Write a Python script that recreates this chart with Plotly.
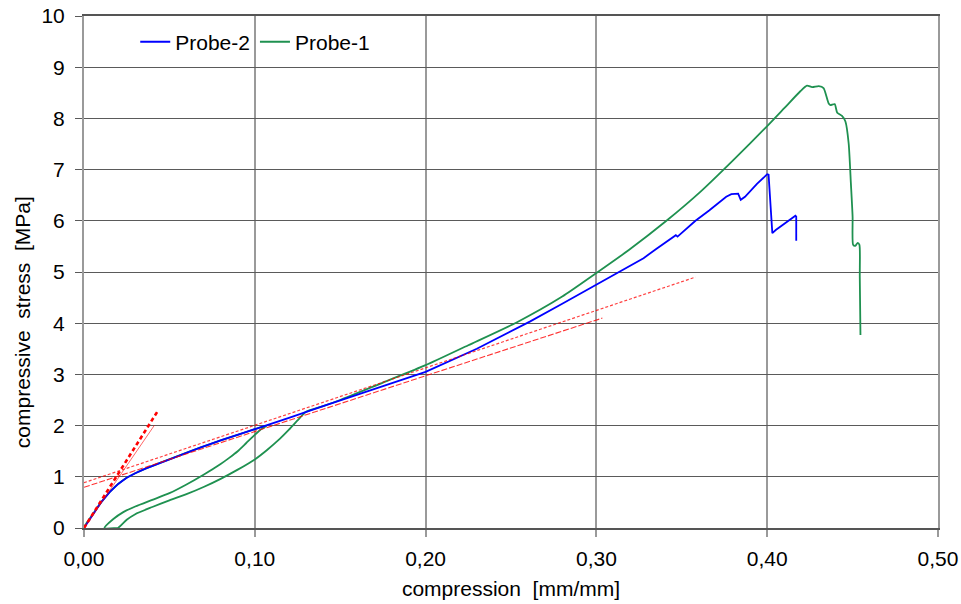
import plotly.graph_objects as go

# ---------------- data ----------------
probe2_x = [0, 0.005, 0.01, 0.015, 0.02, 0.025, 0.03, 0.036, 0.046, 0.056, 0.068, 0.08, 0.09, 0.10, 0.107,
            0.12, 0.14, 0.16, 0.18, 0.20, 0.23, 0.261, 0.28, 0.30, 0.315, 0.3276, 0.335, 0.343, 0.3465,
            0.3475, 0.35, 0.358, 0.366, 0.376, 0.379, 0.383, 0.3845, 0.387, 0.394, 0.400, 0.4008,
            0.403, 0.405, 0.411, 0.4165, 0.417, 0.417]
probe2_y = [0, 0.26, 0.50, 0.70, 0.86, 0.98, 1.07, 1.16, 1.29, 1.42, 1.57, 1.71, 1.82, 1.93, 2.00,
            2.15, 2.38, 2.60, 2.82, 3.05, 3.50, 4.03, 4.38, 4.76, 5.04, 5.27, 5.45, 5.65, 5.72,
            5.69, 5.76, 6.00, 6.20, 6.47, 6.52, 6.53, 6.41, 6.47, 6.72, 6.91, 6.90,
            5.76, 5.82, 5.97, 6.10, 6.08, 5.61]

probe1_x = [0.0198, 0,
            0.005, 0.01, 0.015, 0.02, 0.025, 0.03, 0.036, 0.046, 0.056, 0.068, 0.08, 0.09, 0.10, 0.107,
            0.103, 0.10, 0.095, 0.09, 0.085, 0.08, 0.07, 0.06, 0.05, 0.04, 0.03, 0.023, 0.017, 0.012,
            0.0198, 0.025, 0.03, 0.04, 0.05, 0.06, 0.07, 0.08, 0.09, 0.10, 0.107, 0.1146, 0.12, 0.125, 0.13,
            0.14, 0.15, 0.175, 0.20, 0.225, 0.253, 0.28, 0.30, 0.319, 0.341, 0.361, 0.38, 0.40, 0.41,
            0.4194, 0.4233, 0.4263, 0.4302, 0.433, 0.436, 0.437, 0.4395, 0.441, 0.4438, 0.4458,
            0.4477, 0.449, 0.450, 0.4503, 0.4516, 0.453, 0.454, 0.4542, 0.4546]
probe1_y = [0, 0,
            0.26, 0.50, 0.70, 0.86, 0.98, 1.07, 1.16, 1.29, 1.42, 1.57, 1.71, 1.82, 1.93, 2.00,
            1.91, 1.82, 1.66, 1.50, 1.37, 1.25, 1.04, 0.85, 0.68, 0.55, 0.42, 0.31, 0.17, 0,
            0, 0.16, 0.27, 0.41, 0.54, 0.66, 0.80, 0.96, 1.14, 1.34, 1.52, 1.74, 1.92, 2.10, 2.27,
            2.38, 2.50, 2.84, 3.18, 3.57, 4.01, 4.52, 4.98, 5.43, 6.00, 6.57, 7.18, 7.85, 8.20,
            8.53, 8.64, 8.61, 8.63, 8.59, 8.29, 8.26, 8.28, 8.11, 8.05, 7.94,
            7.51, 6.73, 6.08, 5.53, 5.51, 5.57, 5.53, 4.91, 3.77]

# tangent (modulus) lines
tan_steep1_x = [0, 0.0431]
tan_steep1_y = [0, 2.28]
tan_steep2_x = [0, 0.0413]
tan_steep2_y = [0, 2.01]
tan_flat1_x = [0, 0.358]
tan_flat1_y = [0.885, 4.90]
tan_flat2_x = [0, 0.3035]
tan_flat2_y = [0.795, 4.10]

x_ticks = [0, 0.1, 0.2, 0.3, 0.4, 0.5]
y_ticks = list(range(0, 11))

FONT = "Liberation Sans, Arial, sans-serif"
FS = 21

fig = go.Figure()
fig.add_trace(go.Scatter(x=probe1_x, y=probe1_y, mode="lines", name="Probe-1",
                         line=dict(color="#1F9150", width=1.8, shape="spline", smoothing=0.6),
                         legendrank=2))
fig.add_trace(go.Scatter(x=probe2_x, y=probe2_y, mode="lines", name="Probe-2",
                         line=dict(color="#0000FF", width=1.8), legendrank=1))
fig.add_trace(go.Scatter(x=tan_flat1_x, y=tan_flat1_y, mode="lines", showlegend=False,
                         line=dict(color="rgba(255,0,0,0.75)", width=1.2, dash="3px,2px")))
fig.add_trace(go.Scatter(x=tan_flat2_x, y=tan_flat2_y, mode="lines", showlegend=False,
                         line=dict(color="rgba(255,0,0,0.8)", width=1.1, dash="6px,2px")))
fig.add_trace(go.Scatter(x=tan_steep2_x, y=tan_steep2_y, mode="lines", showlegend=False,
                         line=dict(color="rgba(255,0,0,0.6)", width=1)))
fig.add_trace(go.Scatter(x=tan_steep1_x, y=tan_steep1_y, mode="lines", showlegend=False,
                         line=dict(color="#FF0000", width=2.6, dash="4px,3px")))

fig.update_layout(
    width=961, height=604,
    margin=dict(l=84, r=23, t=16, b=76, autoexpand=False),
    paper_bgcolor="white", plot_bgcolor="white",
    separators=",.",
    font=dict(family=FONT, size=FS, color="black"),
    showlegend=True,
    legend=dict(orientation="h", x=0.06, y=0.949, xanchor="left", yanchor="middle",
                bgcolor="rgba(0,0,0,0)", font=dict(size=FS), itemwidth=30,
                traceorder="normal"),
    xaxis=dict(range=[0, 0.5], tickvals=x_ticks, tickformat=".2f", automargin=False,
               showgrid=True, gridcolor="#9a9a9a", gridwidth=2,
               showline=True, linecolor="#555555", linewidth=1.5, mirror=True,
               ticks="outside", ticklen=7, tickcolor="#9a9a9a", tickwidth=1.5,
               zeroline=False, ticklabelstandoff=4,
               title=dict(text="compression  [mm/mm]", font=dict(size=FS), standoff=12)),
    yaxis=dict(range=[0, 10], tickvals=y_ticks, automargin=False,
               showgrid=True, gridcolor="#5a5a5a", gridwidth=1.2,
               showline=True, linecolor="#9a9a9a", linewidth=2, mirror=True,
               ticks="outside", ticklen=7, tickcolor="#5a5a5a", tickwidth=1.2,
               zeroline=False, ticklabelstandoff=6),
    annotations=[dict(text="compressive  stress  [MPa]", textangle=-90,
                      xref="paper", yref="paper", x=-0.0726, y=0.402,
                      xanchor="center", yanchor="middle", showarrow=False,
                      font=dict(size=FS, family=FONT, color="black"))],
)

fig.write_html("out.html")
